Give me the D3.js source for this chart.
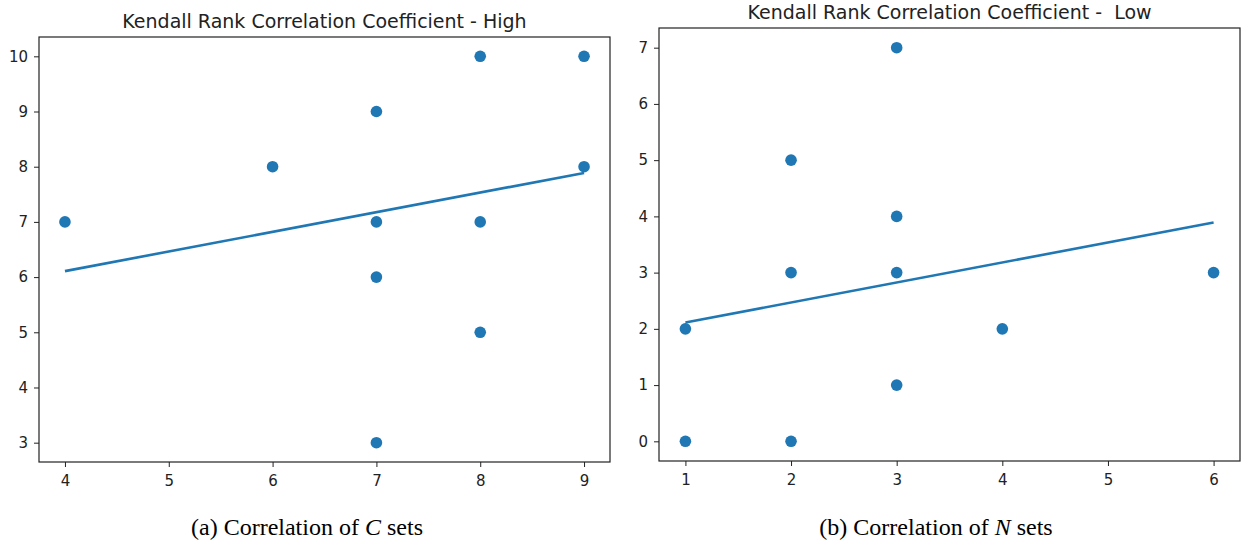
<!DOCTYPE html>
<html>
<head>
<meta charset="utf-8">
<script src="https://cdn.jsdelivr.net/npm/d3@7"></script>
<style>
  body { margin: 0; background: #fff; }
  svg { display: block; }
</style>
</head>
<body>
<svg id="chart" width="1242" height="542"></svg>
<script>
// Panel (a): C sets
const highX = [4, 6, 7, 7, 7, 7, 8, 8, 8, 9, 9];
const highY = [7, 8, 9, 7, 6, 3, 10, 7, 5, 10, 8];
const highXTicks = [4, 5, 6, 7, 8, 9];
const highYTicks = [3, 4, 5, 6, 7, 8, 9, 10];

// Panel (b): N sets
const lowX = [1, 1, 2, 2, 2, 3, 3, 3, 3, 4, 6];
const lowY = [2, 0, 5, 3, 0, 7, 4, 3, 1, 2, 3];
const lowXTicks = [1, 2, 3, 4, 5, 6];
const lowYTicks = [0, 1, 2, 3, 4, 5, 6, 7];

const titles = ["Kendall Rank Correlation Coefficient - High", "Kendall Rank Correlation Coefficient -  Low"];
const captions = [["(a) Correlation of ", "C", " sets"], ["(b) Correlation of ", "N", " sets"]];

const BLUE = "#1f77b4";
const svg = d3.select("#chart");

// matplotlib style 5% margin around the data
function padded(values) {
  const [lo, hi] = d3.extent(values);
  const pad = (hi - lo) * 0.05;
  return [lo - pad, hi + pad];
}

// least squares fit, same as np.polyfit(x, y, 1)
function fit(xs, ys) {
  const mx = d3.mean(xs), my = d3.mean(ys);
  let sxy = 0, sxx = 0;
  xs.forEach((x, i) => {
    sxy += (x - mx) * (ys[i] - my);
    sxx += (x - mx) * (x - mx);
  });
  const m = sxy / sxx;
  return x => m * x + (my - m * mx);
}

function drawPanel(box, xs, ys, xTicks, yTicks, title, caption) {
  const x = d3.scaleLinear().domain(padded(xs)).range([box.left, box.right]);
  const y = d3.scaleLinear().domain(padded(ys)).range([box.bottom, box.top]);
  const g = svg.append("g");

  const xAxis = g.append("g")
    .attr("transform", `translate(0,${box.bottom})`)
    .call(d3.axisBottom(x).tickValues(xTicks).tickFormat(d3.format("d")).tickSize(5).tickPadding(8));
  const yAxis = g.append("g")
    .attr("transform", `translate(${box.left},0)`)
    .call(d3.axisLeft(y).tickValues(yTicks).tickFormat(d3.format("d")).tickSize(5).tickPadding(6));

  [xAxis, yAxis].forEach(a => {
    a.select(".domain").remove();
    a.selectAll("text")
      .style("font-family", "DejaVu Sans")
      .style("font-size", "15px")
      .style("fill", "#222");
    a.selectAll("line").style("stroke", "#222");
  });

  g.append("rect")
    .attr("x", box.left).attr("y", box.top)
    .attr("width", box.right - box.left).attr("height", box.bottom - box.top)
    .style("fill", "none").style("stroke", "#222").style("stroke-width", 1.2);

  g.selectAll(".dot")
    .data(xs.map((d, i) => [d, ys[i]]))
    .enter().append("circle")
    .attr("class", "dot")
    .attr("cx", d => x(d[0]))
    .attr("cy", d => y(d[1]))
    .attr("r", 5.8)
    .style("fill", BLUE);

  const f = fit(xs, ys);
  g.append("path")
    .datum(d3.extent(xs))
    .attr("d", d3.line().x(d => x(d)).y(d => y(f(d))))
    .style("fill", "none")
    .style("stroke", BLUE)
    .style("stroke-width", 2.6);

  g.append("text")
    .attr("x", (box.left + box.right) / 2)
    .attr("y", box.top - 9)
    .attr("text-anchor", "middle")
    .style("font-family", "DejaVu Sans")
    .style("font-size", "19px")
    .style("fill", "#222")
    .style("white-space", "pre")
    .text(title);

  const cap = g.append("text")
    .attr("x", box.captionX)
    .attr("y", 535)
    .attr("text-anchor", "middle")
    .style("font-family", "Liberation Serif")
    .style("font-size", "24px")
    .style("fill", "#000");
  cap.append("tspan").text(caption[0]);
  cap.append("tspan").style("font-style", "italic").text(caption[1]);
  cap.append("tspan").text(caption[2]);
}

drawPanel({ left: 39, right: 610, top: 37, bottom: 462, captionX: 307 },
  highX, highY, highXTicks, highYTicks, titles[0], captions[0]);
drawPanel({ left: 659, right: 1240, top: 28, bottom: 461, captionX: 936 },
  lowX, lowY, lowXTicks, lowYTicks, titles[1], captions[1]);
</script>
</body>
</html>
